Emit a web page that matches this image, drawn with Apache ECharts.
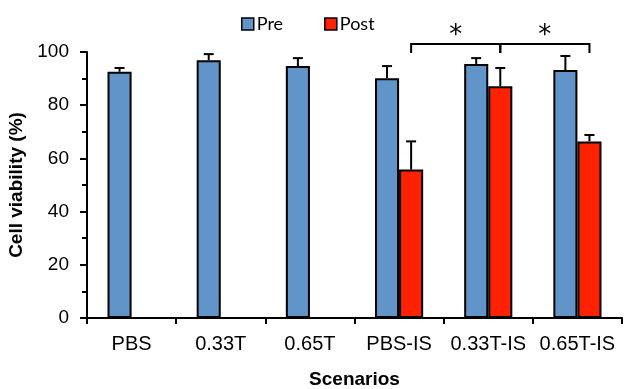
<!DOCTYPE html>
<html>
<head>
<meta charset="utf-8">
<script src="https://cdn.jsdelivr.net/npm/echarts@6/dist/echarts.min.js"></script>
<style>
  html, body { margin: 0; padding: 0; background: #fff; }
  #chart { width: 624px; height: 389px; }
</style>
</head>
<body>
<div id="chart"></div>
<script>
// data
const scenarios = ['PBS', '0.33T', '0.65T', 'PBS-IS', '0.33T-IS', '0.65T-IS']
const preValues = [92.6, 96.9, 94.7, 90.1, 95.5, 93.2]
const preErrors = [1.4, 2.3, 3.0, 4.6, 2.2, 5.3]
const postValues = [0, 0, 0, 55.8, 87.1, 66.4]
const postErrors = [0, 0, 0, 10.6, 6.9, 2.4]
const yTicks = [0, 20, 40, 60, 80, 100]

// significance brackets (between Post bars)
const bracketFrom = ['PBS-IS', '0.33T-IS']
const bracketTo = ['0.33T-IS', '0.65T-IS']
const bracketLevel = [103, 103]
const bracketMark = ['*', '*']

const preColor = '#6195C9'
const postColor = '#FF2200'
const barPct = 0.27

const chart = echarts.init(document.getElementById('chart'))

const errorRender = (sign) => (params, api) => {
  const err = api.value(2)
  if (!err) return null
  const band = api.size([1, 0])[0]
  const off = sign * band * barPct / 2
  const base = api.coord([api.value(0), api.value(1)])
  const top = api.coord([api.value(0), api.value(1) + err])
  const x = base[0] + off
  const style = { stroke: '#000', lineWidth: 2 }
  return {
    type: 'group',
    children: [
      { type: 'line', shape: { x1: x, y1: base[1], x2: x, y2: top[1] }, style },
      { type: 'line', shape: { x1: x - 5, y1: top[1], x2: x + 5, y2: top[1] }, style }
    ]
  }
}

const bracketRender = (params, api) => {
  const band = api.size([1, 0])[0]
  const off = band * barPct / 2
  const a = api.coord([api.value(0), api.value(2)])
  const b = api.coord([api.value(1), api.value(2)])
  const x1 = a[0] + off
  const x2 = b[0] + off
  const y = a[1]
  const style = { stroke: '#000', lineWidth: 2, fill: null }
  return {
    type: 'group',
    children: [
      {
        type: 'polyline',
        shape: { points: [[x1, y + 9], [x1, y], [x2, y], [x2, y + 9]] },
        style
      },
      {
        type: 'text',
        style: {
          text: bracketMark[params.dataIndex],
          x: (x1 + x2) / 2,
          y: y + 5,
          align: 'center',
          verticalAlign: 'bottom',
          fontSize: 26,
          fontFamily: 'DejaVu Sans',
          fill: '#000'
        }
      }
    ]
  }
}

const option = {
  animation: false,
  backgroundColor: '#fff',
  grid: { left: 87, right: 2, top: 52, bottom: 71, outerBoundsMode: 'none' },
  legend: {
    data: ['Pre', 'Post'],
    left: 236,
    top: 10,
    icon: 'rect',
    itemWidth: 12,
    itemHeight: 12,
    itemGap: 41,
    itemStyle: { borderColor: '#000', borderWidth: 1.5 },
    textStyle: { fontFamily: 'Lato', fontSize: 18, color: '#000', padding: [0, 0, 0, -2] }
  },
  xAxis: {
    type: 'category',
    data: scenarios,
    name: 'Scenarios',
    nameLocation: 'middle',
    nameGap: 52,
    nameTextStyle: { fontFamily: 'Liberation Sans', fontSize: 19, fontWeight: 'bold', color: '#000' },
    axisLine: { lineStyle: { color: '#000', width: 2 } },
    axisTick: { show: true, interval: 0, length: 6, lineStyle: { color: '#000', width: 2 } },
    axisLabel: { interval: 0, fontFamily: 'Liberation Sans', fontSize: 20, color: '#000', margin: 16 }
  },
  yAxis: {
    type: 'value',
    min: yTicks[0],
    max: yTicks[yTicks.length - 1],
    interval: 20,
    name: 'Cell viability (%)',
    nameLocation: 'middle',
    nameGap: 51,
    nameTextStyle: { fontFamily: 'Liberation Sans', fontSize: 19, fontWeight: 'bold', color: '#000' },
    axisLine: { show: true, lineStyle: { color: '#000', width: 2 } },
    axisTick: { show: true, length: 7, lineStyle: { color: '#000', width: 2 } },
    minorTick: { show: true, splitNumber: 2, length: 5, lineStyle: { color: '#000', width: 2 } },
    axisLabel: { fontFamily: 'Liberation Sans', fontSize: 19, color: '#000', margin: 18 },
    splitLine: { show: false }
  },
  series: [
    {
      name: 'Pre',
      type: 'bar',
      data: preValues,
      barWidth: (barPct * 100) + '%',
      barGap: '0%',
      itemStyle: { color: preColor, borderColor: '#000', borderWidth: 2 }
    },
    {
      name: 'Post',
      type: 'bar',
      data: postValues,
      barWidth: (barPct * 100) + '%',
      barGap: '0%',
      itemStyle: { color: postColor, borderColor: '#000', borderWidth: 2 }
    },
    {
      type: 'custom',
      renderItem: errorRender(-1),
      data: preValues.map((v, i) => [i, v, preErrors[i]]),
      encode: { x: 0, y: 1 },
      z: 1
    },
    {
      type: 'custom',
      renderItem: errorRender(1),
      data: postValues.map((v, i) => [i, v, postErrors[i]]),
      encode: { x: 0, y: 1 },
      z: 1
    },
    {
      type: 'custom',
      renderItem: bracketRender,
      clip: false,
      data: bracketFrom.map((s, i) => [scenarios.indexOf(s), scenarios.indexOf(bracketTo[i]), bracketLevel[i]]),
      encode: { x: 0, y: 2 },
      z: 3
    }
  ]
}

chart.setOption(option)
</script>
</body>
</html>
